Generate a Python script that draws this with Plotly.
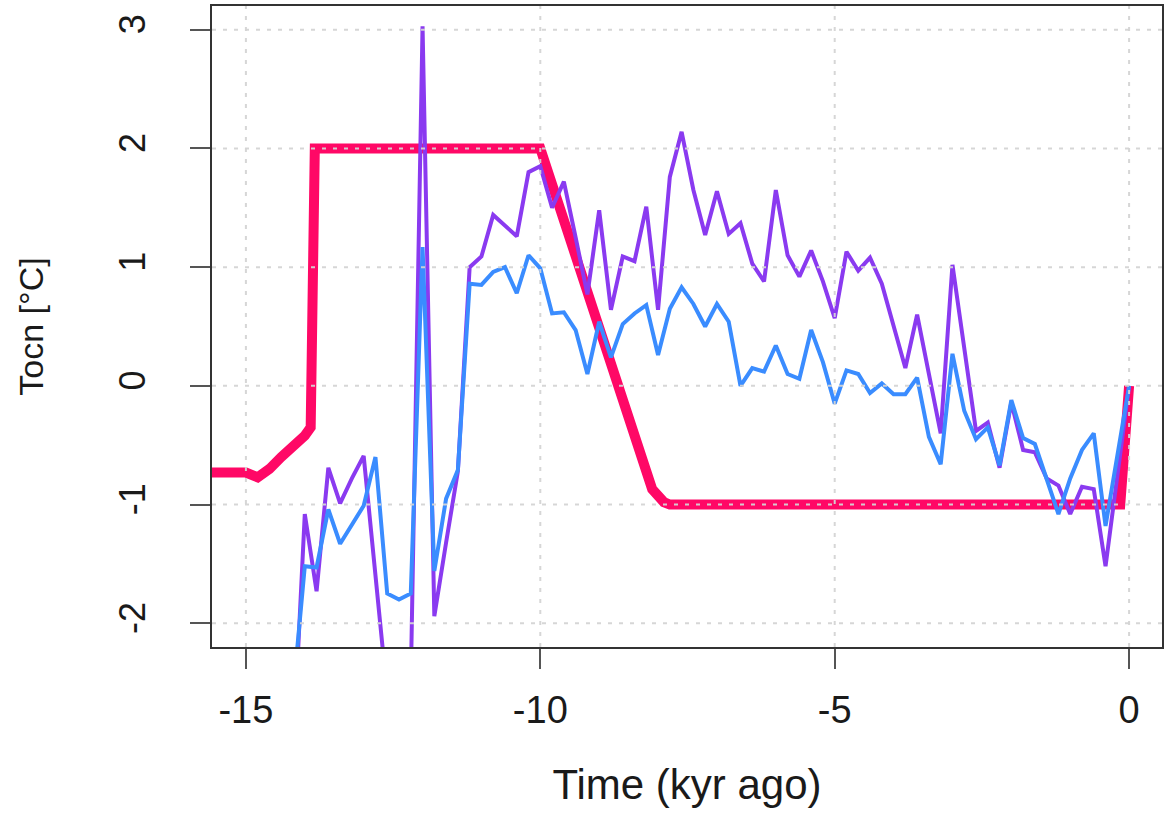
import plotly.graph_objects as go

# ---- data ----
time_kyr = [-14.2, -14.0, -13.8, -13.6, -13.4, -13.2, -13.0, -12.8, -12.6, -12.4,
            -12.2, -12.0, -11.8, -11.6, -11.4, -11.2, -11.0, -10.8, -10.6, -10.4,
            -10.2, -10.0, -9.8, -9.6, -9.4, -9.2, -9.0, -8.8, -8.6, -8.4,
            -8.2, -8.0, -7.8, -7.6, -7.4, -7.2, -7.0, -6.8, -6.6, -6.4,
            -6.2, -6.0, -5.8, -5.6, -5.4, -5.2, -5.0, -4.8, -4.6, -4.4,
            -4.2, -4.0, -3.8, -3.6, -3.4, -3.2, -3.0, -2.8, -2.6, -2.4,
            -2.2, -2.0, -1.8, -1.6, -1.4, -1.2, -1.0, -0.8, -0.6, -0.4,
            -0.2, 0.0]

tocn_purple = [-3.1, -1.08, -1.73, -0.69, -0.99, -0.78, -0.59, -1.55, -2.6, -2.7,
               -2.5, 3.03, -1.94, -1.32, -0.72, 1.00, 1.09, 1.44, 1.35, 1.26,
               1.80, 1.85, 1.50, 1.72, 1.25, 0.77, 1.48, 0.64, 1.09, 1.05,
               1.51, 0.64, 1.76, 2.14, 1.65, 1.27, 1.64, 1.28, 1.37, 1.03,
               0.88, 1.65, 1.10, 0.92, 1.14, 0.88, 0.57, 1.13, 0.97, 1.08,
               0.86, 0.50, 0.15, 0.60, 0.10, -0.40, 1.02, 0.33, -0.38, -0.31,
               -0.69, -0.14, -0.54, -0.56, -0.78, -0.84, -1.08, -0.85, -0.87, -1.52,
               -0.76, 0.0]

tocn_blue = [-2.6, -1.52, -1.53, -1.04, -1.33, -1.17, -1.01, -0.60, -1.75, -1.80,
             -1.75, 1.17, -1.56, -0.95, -0.71, 0.86, 0.85, 0.96, 1.00, 0.78,
             1.10, 0.99, 0.61, 0.62, 0.47, 0.10, 0.54, 0.24, 0.52, 0.61,
             0.68, 0.26, 0.65, 0.83, 0.69, 0.50, 0.69, 0.54, 0.00, 0.15,
             0.12, 0.34, 0.10, 0.06, 0.47, 0.20, -0.15, 0.13, 0.10, -0.06,
             0.02, -0.07, -0.07, 0.07, -0.43, -0.66, 0.27, -0.21, -0.45, -0.35,
             -0.67, -0.12, -0.44, -0.49, -0.78, -1.08, -0.78, -0.54, -0.40, -1.18,
             -0.59, 0.0]

forcing_time = [-15.6, -15.0, -14.8, -14.6, -14.4, -14.2, -14.0, -13.9, -13.83,
                -10.0, -8.1, -7.9, -7.8, -0.15, 0.0]
forcing_tocn = [-0.73, -0.73, -0.77, -0.70, -0.60, -0.52, -0.42, -0.35, 2.0,
                2.0, -0.87, -0.98, -1.0, -1.0, 0.0]

x_ticks = [-15, -10, -5, 0]
x_tick_labels = ["-15", "-10", "-5", "0"]
y_ticks = [-2, -1, 0, 1, 2, 3]
y_tick_labels = ["-2", "-1", "0", "1", "2", "3"]

PINK = "#ff0866"
PURPLE = "#8a3af0"
BLUE = "#3a8cff"
GRID = "rgba(212,212,212,0.95)"

fig = go.Figure()
fig.add_trace(go.Scatter(x=forcing_time, y=forcing_tocn, mode="lines",
                         line=dict(color=PINK, width=10), showlegend=False))
fig.add_trace(go.Scatter(x=time_kyr, y=tocn_purple, mode="lines",
                         line=dict(color=PURPLE, width=4), showlegend=False))
fig.add_trace(go.Scatter(x=time_kyr, y=tocn_blue, mode="lines",
                         line=dict(color=BLUE, width=4), showlegend=False))

# dotted grid drawn over the data (as in the reference)
for xv in x_ticks:
    fig.add_shape(type="line", xref="x", yref="paper", x0=xv, x1=xv, y0=0, y1=1,
                  line=dict(color=GRID, width=2, dash="4px,7px"), layer="above")
for yv in y_ticks:
    fig.add_shape(type="line", xref="paper", yref="y", x0=0, x1=1, y0=yv, y1=yv,
                  line=dict(color=GRID, width=2, dash="4px,7px"), layer="above")

axis_common = dict(showgrid=False, zeroline=False, showline=True, mirror=True,
                   linecolor="#333333", linewidth=2, ticks="outside", ticklen=20,
                   tickwidth=2, tickcolor="#555555")

fig.update_layout(
    width=1167, height=819,
    margin=dict(l=212, r=3, t=6, b=172),
    paper_bgcolor="white", plot_bgcolor="white",
    font=dict(family="Liberation Sans, Arial, sans-serif", size=38, color="#1a1a1a"),
    xaxis=dict(range=[-15.576, 0.559], tickmode="array", tickvals=x_ticks,
               ticktext=x_tick_labels, ticklabelstandoff=8,
               title=dict(text="Time (kyr ago)", standoff=40,
                          font=dict(size=42, family="Liberation Sans, Arial, sans-serif")),
               **axis_common),
    yaxis=dict(range=[-2.2, 3.2], tickmode="array", tickvals=y_ticks,
               ticktext=y_tick_labels, tickangle=-90, ticklabelstandoff=31,
               tickfont=dict(size=36),
               title=dict(text="Tocn [°C]", standoff=58,
                          font=dict(size=34, family="Liberation Sans, Arial, sans-serif")),
               **axis_common),
)

fig.write_html("out.html", config={"displayModeBar": False},
               post_script="document.body.style.margin='0';")
